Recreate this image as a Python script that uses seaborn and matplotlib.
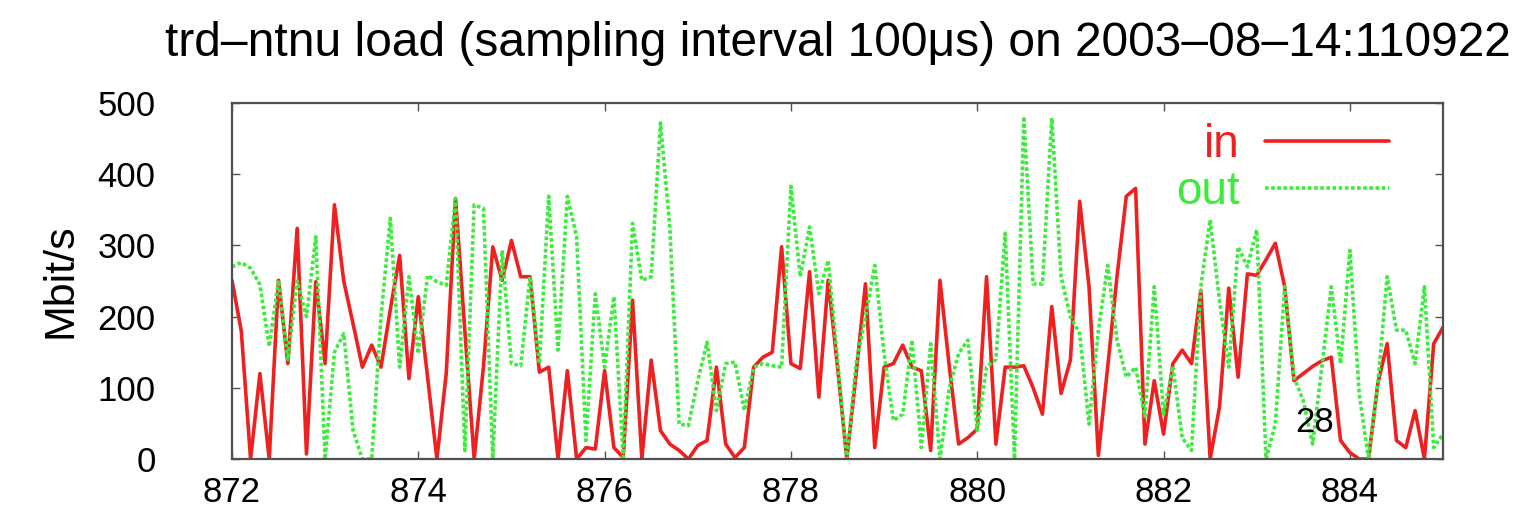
import numpy as np
import pandas as pd
import matplotlib
matplotlib.use("Agg")
import matplotlib.pyplot as plt
import seaborn as sns

# --- data (Mbit/s per sample) ---
TITLE = "trd\u2013ntnu load (sampling interval 100\u03bcs) on 2003\u201308\u201314:110922"
t_start = 872.0
t_step = 0.1

in_mbps = [
    251, 180, 0, 120, 0, 251, 134, 324, 7, 249,
    134, 357, 250, 190, 129, 160, 129, 210, 286, 113,
    228, 115, 0, 120, 366, 180, 0, 130, 298, 251,
    307, 256, 256, 122, 129, 0, 124, 0, 16, 14,
    124, 16, 2, 223, 0, 139, 40, 21, 12, 0,
    19, 26, 129, 21, 2, 16, 129, 143, 150, 298,
    134, 127, 263, 87, 251, 130, 0, 120, 246, 16,
    129, 134, 160, 129, 124, 12, 251, 130, 21, 30,
    42, 256, 21, 129, 129, 131, 100, 63, 214, 92,
    139, 362, 242, 5, 129, 256, 369, 380, 21, 110,
    35, 134, 153, 134, 237, 0, 73, 240, 115, 260,
    258, 280, 303, 242, 110, 120, 130, 138, 143, 26,
    9, 0, 0, 106, 162, 26, 16, 68, 0, 162,
    185,
]

out_mbps = [
    270, 276, 268, 245, 158, 251, 140, 250, 200, 312,
    0, 150, 176, 40, 0, 0, 200, 338, 129, 256,
    148, 258, 249, 244, 366, 12, 357, 352, 0, 293,
    134, 131, 256, 134, 369, 153, 369, 312, 26, 232,
    129, 228, 2, 331, 251, 256, 472, 326, 49, 47,
    110, 164, 68, 134, 136, 68, 129, 134, 131, 129,
    383, 256, 326, 232, 279, 140, 0, 134, 200, 272,
    148, 54, 63, 167, 16, 162, 0, 100, 148, 167,
    40, 129, 140, 317, 0, 481, 246, 246, 479, 256,
    200, 176, 49, 180, 272, 167, 115, 129, 60, 242,
    63, 130, 30, 12, 242, 336, 223, 129, 298, 270,
    322, 0, 49, 242, 115, 82, 21, 130, 242, 134,
    293, 92, 0, 106, 256, 181, 181, 134, 242, 16,
    35,
]

x_ticks = [872, 874, 876, 878, 880, 882, 884]
y_ticks = [0, 100, 200, 300, 400, 500]
page_number = "28"

RED = "#ee2020"
GREEN = "#3cec3c"

sns.set_style("ticks")
plt.rcParams["font.family"] = ["Liberation Sans", "DejaVu Sans"]
plt.rcParams["text.color"] = "black"
plt.rcParams["axes.labelcolor"] = "black"

time = t_start + t_step * np.arange(len(in_mbps))
df = pd.DataFrame({"time": time, "in": in_mbps, "out": out_mbps})

fig = plt.figure(figsize=(15.28, 5.12), dpi=100)
ax = fig.add_axes([0.1518, 0.1035, 0.7926, 0.6953])

sns.lineplot(data=df, x="time", y="in", ax=ax, color=RED,
             linewidth=2.6, label="in")
sns.lineplot(data=df, x="time", y="out", ax=ax, color=GREEN,
             linewidth=2.6, linestyle=(0, (1, 0.7)), label="out")

ax.set_xlim(872, 885)
ax.set_ylim(0, 500)
ax.set_xticks(x_ticks)
ax.set_yticks(y_ticks)
ax.set_xlabel("")
ax.set_ylabel("Mbit/s", fontsize=31, labelpad=12)
ax.set_title(TITLE, fontsize=34.5, pad=34, color="black")

for side in ["left", "right", "top", "bottom"]:
    ax.spines[side].set_visible(True)
    ax.spines[side].set_color("#505050")
    ax.spines[side].set_linewidth(1.6)
ax.tick_params(axis="both", direction="in", length=6, width=1.0,
               colors="#505050", labelcolor="black", labelsize=25,
               top=True, right=True)
ax.tick_params(axis="y", pad=55)
ax.tick_params(axis="x", pad=12)

ax.legend(loc="upper right", bbox_to_anchor=(0.955, 0.945), frameon=False,
          markerfirst=False, fontsize=33, handlelength=2.7,
          handletextpad=0.55, labelspacing=0.08, borderaxespad=0,
          borderpad=0, labelcolor="linecolor")

fig.text(1315 / 1528, 1 - 423 / 512, page_number, fontsize=25,
         ha="center", va="center", color="black")

fig.savefig("out.png", dpi=100, facecolor="white")
plt.close(fig)
